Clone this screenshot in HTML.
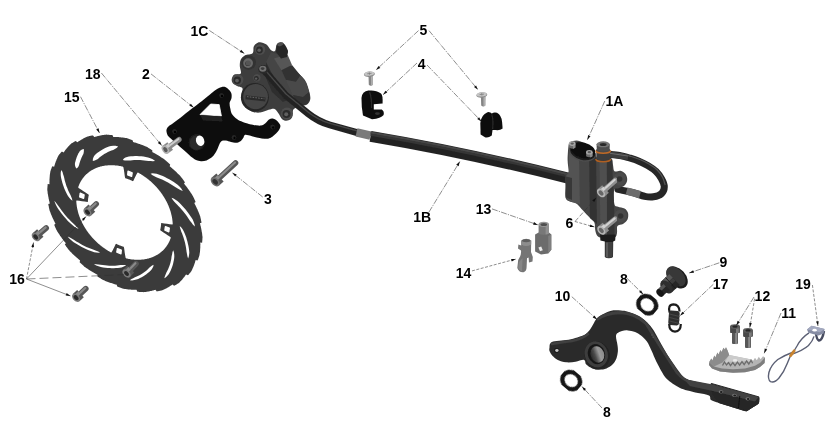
<!DOCTYPE html>
<html><head><meta charset="utf-8"><title>Rear Brake</title>
<style>
html,body{margin:0;padding:0;background:#fff;}
body{width:830px;height:421px;overflow:hidden;font-family:"Liberation Sans",sans-serif;}
svg{display:block}
.lb{font-family:"Liberation Sans",sans-serif;font-weight:bold;font-size:14px;fill:#000;}
</style></head><body>
<svg width="830" height="421" viewBox="0 0 830 421">
<defs>
<filter id="soft0" x="-20%" y="-20%" width="140%" height="140%"><feGaussianBlur stdDeviation="0.28"/></filter>
<filter id="soft" x="-5%" y="-5%" width="110%" height="110%"><feGaussianBlur stdDeviation="0.45"/></filter>
<filter id="soft2" x="-5%" y="-5%" width="110%" height="110%"><feGaussianBlur stdDeviation="0.8"/></filter>
<linearGradient id="bore" x1="0" y1="0" x2="1" y2="0"><stop offset="0" stop-color="#2a2a2a"/><stop offset="0.3" stop-color="#4a4a4a"/><stop offset="0.65" stop-color="#9a9a9a"/><stop offset="1" stop-color="#8a8a8a"/></linearGradient>
</defs>
<rect width="830" height="421" fill="#fff"/>
<g filter="url(#soft)"><path d="M134.4,142.4 L135.1,142.6 L135.8,142.8 L136.5,143.0 L137.1,143.2 L137.8,143.5 L138.5,143.7 L139.1,143.9 L139.8,144.1 L140.5,144.4 L141.2,144.6 L141.8,144.9 L142.5,145.1 L143.2,145.4 L143.9,145.6 L144.5,145.9 L145.2,146.2 L145.9,146.5 L146.6,146.8 L147.2,147.1 L147.9,147.5 L148.5,147.9 L149.1,148.3 L149.8,148.7 L150.4,149.1 L151.1,149.5 L151.7,149.9 L152.3,150.3 L152.3,152.1 L153.0,152.4 L153.6,152.8 L154.3,153.1 L154.9,153.5 L155.6,153.8 L156.2,154.2 L156.9,154.6 L157.5,155.0 L158.2,155.3 L158.8,155.7 L159.4,156.1 L160.1,156.5 L160.7,156.9 L161.3,157.4 L162.0,157.8 L162.6,158.2 L163.2,158.6 L163.9,159.1 L164.5,159.5 L165.1,159.9 L165.7,160.4 L166.3,161.0 L166.8,161.5 L167.4,162.0 L168.0,162.5 L168.5,163.0 L169.1,163.6 L169.6,164.1 L170.2,164.6 L169.7,166.3 L170.3,166.7 L170.9,167.2 L171.5,167.7 L172.0,168.2 L172.6,168.7 L173.2,169.2 L173.8,169.7 L174.3,170.2 L174.9,170.8 L175.5,171.3 L176.0,171.8 L176.6,172.3 L177.1,172.9 L177.7,173.4 L178.2,174.0 L178.8,174.5 L179.3,175.1 L179.9,175.6 L180.4,176.2 L180.9,176.7 L181.4,177.4 L181.9,178.0 L182.3,178.6 L182.8,179.2 L183.2,179.8 L183.7,180.4 L184.1,181.1 L184.5,181.7 L185.0,182.3 L184.0,183.6 L184.5,184.2 L185.0,184.8 L185.5,185.4 L185.9,186.0 L186.4,186.6 L186.9,187.2 L187.3,187.8 L187.8,188.4 L188.2,189.1 L188.7,189.7 L189.1,190.3 L189.6,190.9 L190.0,191.6 L190.4,192.2 L190.8,192.8 L191.3,193.5 L191.7,194.1 L192.1,194.8 L192.5,195.4 L192.9,196.1 L193.2,196.7 L193.6,197.4 L193.9,198.1 L194.2,198.7 L194.5,199.4 L194.8,200.1 L195.1,200.8 L195.4,201.5 L195.6,202.1 L194.3,203.1 L194.7,203.7 L195.0,204.4 L195.3,205.0 L195.7,205.7 L196.0,206.4 L196.3,207.0 L196.6,207.7 L196.9,208.4 L197.3,209.0 L197.6,209.7 L197.8,210.4 L198.1,211.1 L198.4,211.7 L198.7,212.4 L199.0,213.1 L199.2,213.8 L199.5,214.5 L199.8,215.2 L200.0,215.9 L200.3,216.5 L200.4,217.2 L200.6,217.9 L200.7,218.6 L200.9,219.3 L201.0,220.0 L201.1,220.7 L201.3,221.3 L201.4,222.0 L201.5,222.7 L199.9,223.2 L200.1,223.9 L200.3,224.5 L200.4,225.2 L200.6,225.9 L200.8,226.6 L200.9,227.3 L201.1,227.9 L201.2,228.6 L201.3,229.3 L201.5,230.0 L201.6,230.7 L201.7,231.4 L201.8,232.0 L202.0,232.7 L202.1,233.4 L202.2,234.1 L202.2,234.8 L202.3,235.5 L202.4,236.1 L202.5,236.8 L202.5,237.5 L202.5,238.1 L202.4,238.8 L202.4,239.4 L202.3,240.1 L202.3,240.7 L202.2,241.4 L202.2,242.0 L202.1,242.7 L200.3,242.6 L200.3,243.3 L200.4,243.9 L200.4,244.6 L200.3,245.2 L200.3,245.9 L200.3,246.5 L200.3,247.2 L200.3,247.8 L200.2,248.5 L200.2,249.1 L200.1,249.8 L200.1,250.4 L200.0,251.1 L200.0,251.7 L199.9,252.3 L199.8,253.0 L199.7,253.6 L199.6,254.2 L199.5,254.9 L199.4,255.5 L199.2,256.1 L199.0,256.7 L198.8,257.2 L198.6,257.8 L198.4,258.4 L198.2,258.9 L198.0,259.5 L197.7,260.0 L197.5,260.6 L195.6,260.1 L195.5,260.7 L195.3,261.3 L195.1,261.8 L195.0,262.4 L194.8,263.0 L194.6,263.6 L194.4,264.1 L194.2,264.7 L194.0,265.3 L193.8,265.8 L193.5,266.4 L193.3,267.0 L193.1,267.5 L192.8,268.1 L192.6,268.6 L192.3,269.2 L192.1,269.7 L191.8,270.2 L191.6,270.8 L191.3,271.3 L190.9,271.8 L190.6,272.2 L190.2,272.7 L189.8,273.1 L189.5,273.6 L189.1,274.0 L188.7,274.5 L188.3,274.9 L187.9,275.3 L186.1,274.4 L185.8,274.8 L185.5,275.3 L185.1,275.8 L184.8,276.3 L184.5,276.7 L184.1,277.2 L183.7,277.6 L183.4,278.1 L183.0,278.5 L182.6,279.0 L182.3,279.4 L181.9,279.9 L181.5,280.3 L181.1,280.7 L180.7,281.1 L180.3,281.6 L179.9,282.0 L179.5,282.4 L179.0,282.8 L178.6,283.2 L178.1,283.5 L177.6,283.8 L177.1,284.1 L176.6,284.4 L176.1,284.7 L175.6,285.0 L175.1,285.3 L174.6,285.6 L174.1,285.8 L172.4,284.5 L172.0,284.8 L171.5,285.2 L171.0,285.5 L170.6,285.8 L170.1,286.1 L169.6,286.4 L169.1,286.8 L168.6,287.1 L168.1,287.4 L167.6,287.6 L167.1,287.9 L166.6,288.2 L166.0,288.5 L165.5,288.8 L165.0,289.0 L164.5,289.3 L163.9,289.6 L163.4,289.8 L162.8,290.0 L162.3,290.3 L161.7,290.4 L161.1,290.6 L160.5,290.7 L159.9,290.8 L159.3,291.0 L158.7,291.1 L158.1,291.2 L157.4,291.3 L156.8,291.4 L155.5,289.8 L154.9,289.9 L154.4,290.1 L153.8,290.3 L153.2,290.4 L152.6,290.6 L152.0,290.7 L151.4,290.9 L150.8,291.0 L150.2,291.1 L149.6,291.3 L149.0,291.4 L148.4,291.5 L147.8,291.6 L147.2,291.7 L146.6,291.8 L145.9,291.9 L145.3,292.0 L144.7,292.0 L144.0,292.1 L143.4,292.2 L142.7,292.1 L142.1,292.1 L141.4,292.0 L140.8,292.0 L140.1,291.9 L139.4,291.9 L138.8,291.8 L138.1,291.7 L137.4,291.7 L136.5,289.8 L135.9,289.8 L135.2,289.8 L134.6,289.8 L133.9,289.8 L133.3,289.8 L132.6,289.7 L132.0,289.7 L131.3,289.7 L130.6,289.6 L130.0,289.6 L129.3,289.5 L128.6,289.4 L128.0,289.4 L127.3,289.3 L126.6,289.2 L126.0,289.1 L125.3,289.0 L124.6,288.9 L123.9,288.8 L123.3,288.7 L122.6,288.5 L121.9,288.2 L121.2,288.0 L120.6,287.8 L119.9,287.6 L119.2,287.3 L118.5,287.1 L117.9,286.8 L117.2,286.6 L116.7,284.7 L116.0,284.5 L115.4,284.4 L114.7,284.2 L114.0,284.0 L113.3,283.8 L112.7,283.6 L112.0,283.3 L111.3,283.1 L110.7,282.9 L110.0,282.7 L109.3,282.4 L108.6,282.2 L108.0,281.9 L107.3,281.7 L106.6,281.4 L105.9,281.2 L105.3,280.9 L104.6,280.6 L103.9,280.3 L103.2,280.0 L102.6,279.7 L101.9,279.3 L101.3,278.9 L100.7,278.5 L100.0,278.1 L99.4,277.7 L98.7,277.3 L98.1,276.9 L97.5,276.5 L97.5,274.7 L96.8,274.4 L96.2,274.0 L95.5,273.7 L94.9,273.3 L94.2,273.0 L93.6,272.6 L92.9,272.2 L92.3,271.8 L91.6,271.5 L91.0,271.1 L90.4,270.7 L89.7,270.3 L89.1,269.9 L88.5,269.4 L87.8,269.0 L87.2,268.6 L86.6,268.2 L85.9,267.7 L85.3,267.3 L84.7,266.9 L84.1,266.4 L83.5,265.8 L83.0,265.3 L82.4,264.8 L81.8,264.3 L81.3,263.8 L80.7,263.2 L80.2,262.7 L79.6,262.2 L80.1,260.5 L79.5,260.1 L78.9,259.6 L78.3,259.1 L77.8,258.6 L77.2,258.1 L76.6,257.6 L76.0,257.1 L75.5,256.6 L74.9,256.0 L74.3,255.5 L73.8,255.0 L73.2,254.5 L72.7,253.9 L72.1,253.4 L71.6,252.8 L71.0,252.3 L70.5,251.7 L69.9,251.2 L69.4,250.6 L68.9,250.1 L68.4,249.4 L67.9,248.8 L67.5,248.2 L67.0,247.6 L66.6,247.0 L66.1,246.4 L65.7,245.7 L65.3,245.1 L64.8,244.5 L65.8,243.2 L65.3,242.6 L64.8,242.0 L64.3,241.4 L63.9,240.8 L63.4,240.2 L62.9,239.6 L62.5,239.0 L62.0,238.4 L61.6,237.7 L61.1,237.1 L60.7,236.5 L60.2,235.9 L59.8,235.2 L59.4,234.6 L59.0,234.0 L58.5,233.3 L58.1,232.7 L57.7,232.0 L57.3,231.4 L56.9,230.7 L56.6,230.1 L56.2,229.4 L55.9,228.7 L55.6,228.1 L55.3,227.4 L55.0,226.7 L54.7,226.0 L54.4,225.3 L54.2,224.7 L55.5,223.7 L55.1,223.1 L54.8,222.4 L54.5,221.8 L54.1,221.1 L53.8,220.4 L53.5,219.8 L53.2,219.1 L52.9,218.4 L52.5,217.8 L52.2,217.1 L52.0,216.4 L51.7,215.7 L51.4,215.1 L51.1,214.4 L50.8,213.7 L50.6,213.0 L50.3,212.3 L50.0,211.6 L49.8,210.9 L49.5,210.3 L49.4,209.6 L49.2,208.9 L49.1,208.2 L48.9,207.5 L48.8,206.8 L48.7,206.1 L48.5,205.5 L48.4,204.8 L48.3,204.1 L49.9,203.6 L49.7,202.9 L49.5,202.3 L49.4,201.6 L49.2,200.9 L49.0,200.2 L48.9,199.5 L48.7,198.9 L48.6,198.2 L48.5,197.5 L48.3,196.8 L48.2,196.1 L48.1,195.4 L48.0,194.8 L47.8,194.1 L47.7,193.4 L47.6,192.7 L47.6,192.0 L47.5,191.3 L47.4,190.7 L47.3,190.0 L47.3,189.3 L47.3,188.7 L47.4,188.0 L47.4,187.4 L47.5,186.7 L47.5,186.1 L47.6,185.4 L47.6,184.8 L47.7,184.1 L49.5,184.2 L49.5,183.5 L49.4,182.9 L49.4,182.2 L49.5,181.6 L49.5,180.9 L49.5,180.3 L49.5,179.6 L49.5,179.0 L49.6,178.3 L49.6,177.7 L49.7,177.0 L49.7,176.4 L49.8,175.7 L49.8,175.1 L49.9,174.5 L50.0,173.8 L50.1,173.2 L50.2,172.6 L50.3,171.9 L50.4,171.3 L50.6,170.7 L50.8,170.1 L51.0,169.6 L51.2,169.0 L51.4,168.4 L51.6,167.9 L51.8,167.3 L52.1,166.8 L52.3,166.2 L54.2,166.7 L54.3,166.1 L54.5,165.5 L54.7,165.0 L54.8,164.4 L55.0,163.8 L55.2,163.2 L55.4,162.7 L55.6,162.1 L55.8,161.5 L56.0,161.0 L56.3,160.4 L56.5,159.8 L56.7,159.3 L57.0,158.7 L57.2,158.2 L57.5,157.6 L57.7,157.1 L58.0,156.6 L58.2,156.0 L58.5,155.5 L58.9,155.0 L59.2,154.6 L59.6,154.1 L60.0,153.7 L60.3,153.2 L60.7,152.8 L61.1,152.3 L61.5,151.9 L61.9,151.5 L63.7,152.4 L64.0,152.0 L64.3,151.5 L64.7,151.0 L65.0,150.5 L65.3,150.1 L65.7,149.6 L66.1,149.2 L66.4,148.7 L66.8,148.3 L67.2,147.8 L67.5,147.4 L67.9,146.9 L68.3,146.5 L68.7,146.1 L69.1,145.7 L69.5,145.2 L69.9,144.8 L70.3,144.4 L70.8,144.0 L71.2,143.6 L71.7,143.3 L72.2,143.0 L72.7,142.7 L73.2,142.4 L73.7,142.1 L74.2,141.8 L74.7,141.5 L75.2,141.2 L75.7,141.0 L77.4,142.3 L77.8,142.0 L78.3,141.6 L78.8,141.3 L79.2,141.0 L79.7,140.7 L80.2,140.4 L80.7,140.0 L81.2,139.7 L81.7,139.4 L82.2,139.2 L82.7,138.9 L83.2,138.6 L83.8,138.3 L84.3,138.0 L84.8,137.8 L85.3,137.5 L85.9,137.2 L86.4,137.0 L87.0,136.8 L87.5,136.5 L88.1,136.4 L88.7,136.2 L89.3,136.1 L89.9,136.0 L90.5,135.8 L91.1,135.7 L91.7,135.6 L92.4,135.5 L93.0,135.4 L94.3,137.0 L94.9,136.9 L95.4,136.7 L96.0,136.5 L96.6,136.4 L97.2,136.2 L97.8,136.1 L98.4,135.9 L99.0,135.8 L99.6,135.7 L100.2,135.5 L100.8,135.4 L101.4,135.3 L102.0,135.2 L102.6,135.1 L103.2,135.0 L103.9,134.9 L104.5,134.8 L105.1,134.8 L105.8,134.7 L106.4,134.6 L107.1,134.7 L107.7,134.7 L108.4,134.8 L109.0,134.8 L109.7,134.9 L110.4,134.9 L111.0,135.0 L111.7,135.1 L112.4,135.1 L113.3,137.0 L113.9,137.0 L114.6,137.0 L115.2,137.0 L115.9,137.0 L116.5,137.0 L117.2,137.1 L117.8,137.1 L118.5,137.1 L119.2,137.2 L119.8,137.2 L120.5,137.3 L121.2,137.4 L121.8,137.4 L122.5,137.5 L123.2,137.6 L123.8,137.7 L124.5,137.8 L125.2,137.9 L125.9,138.0 L126.5,138.1 L127.2,138.3 L127.9,138.6 L128.6,138.8 L129.2,139.0 L129.9,139.2 L130.6,139.5 L131.3,139.7 L131.9,140.0 L132.6,140.2 L133.1,142.1 L133.8,142.3ZM129.1,179.5 L129.4,179.6 L129.7,179.8 L130.0,179.9 L130.4,180.0 L130.7,180.2 L131.0,180.3 L131.3,180.4 L131.6,180.6 L131.9,180.7 L132.2,180.9 L132.6,181.0 L132.9,181.2 L133.3,180.9 L134.3,178.8 L135.3,176.8 L136.3,174.7 L137.4,172.7 L138.0,172.5 L138.4,172.7 L138.8,173.0 L139.2,173.2 L139.6,173.4 L140.0,173.7 L140.4,173.9 L140.8,174.1 L141.2,174.4 L141.6,174.6 L141.9,174.9 L142.3,175.1 L142.7,175.4 L143.1,175.6 L143.5,175.9 L143.9,176.2 L144.3,176.4 L144.7,176.7 L145.0,177.0 L145.4,177.2 L145.8,177.5 L146.2,177.8 L146.6,178.1 L146.9,178.4 L147.3,178.6 L147.7,178.9 L148.0,179.2 L148.4,179.5 L148.8,179.8 L149.1,180.1 L149.5,180.4 L149.8,180.7 L150.2,181.0 L150.6,181.3 L150.9,181.6 L151.3,182.0 L151.6,182.3 L152.0,182.6 L152.3,182.9 L152.6,183.2 L153.0,183.6 L153.3,183.9 L153.7,184.2 L154.0,184.6 L154.3,184.9 L154.7,185.2 L155.0,185.6 L155.3,185.9 L155.6,186.2 L156.0,186.6 L156.3,186.9 L156.6,187.3 L156.9,187.6 L157.2,188.0 L157.5,188.3 L157.8,188.7 L158.1,189.1 L158.4,189.4 L158.7,189.8 L159.0,190.1 L159.3,190.5 L159.6,190.9 L159.9,191.2 L160.2,191.6 L160.5,192.0 L160.7,192.3 L161.0,192.7 L161.3,193.1 L161.6,193.5 L161.8,193.9 L162.1,194.2 L162.4,194.6 L162.6,195.0 L162.9,195.4 L163.1,195.8 L163.4,196.2 L163.6,196.5 L163.9,196.9 L164.1,197.3 L164.3,197.7 L164.6,198.1 L164.8,198.5 L165.0,198.9 L165.3,199.3 L165.5,199.7 L165.7,200.1 L165.9,200.5 L166.1,200.9 L166.4,201.3 L166.6,201.7 L166.8,202.1 L167.0,202.5 L167.2,202.9 L167.4,203.3 L167.6,203.7 L167.7,204.1 L167.9,204.5 L168.1,204.9 L168.3,205.3 L168.5,205.7 L168.6,206.2 L168.8,206.6 L169.0,207.0 L169.1,207.4 L169.3,207.8 L169.4,208.2 L169.6,208.6 L169.7,209.0 L169.9,209.4 L170.0,209.8 L170.2,210.3 L170.3,210.7 L170.4,211.1 L170.6,211.5 L170.7,211.9 L170.8,212.3 L170.9,212.7 L171.0,213.1 L171.1,213.6 L171.2,214.0 L171.3,214.4 L171.4,214.8 L171.5,215.2 L171.6,215.6 L171.7,216.0 L171.8,216.4 L171.9,216.9 L172.0,217.3 L172.0,217.7 L172.1,218.1 L172.2,218.5 L172.2,218.9 L172.3,219.3 L172.3,219.7 L172.4,220.1 L172.4,220.5 L172.5,220.9 L172.5,221.4 L172.6,221.8 L172.6,222.2 L172.6,222.6 L172.7,223.0 L172.7,223.4 L172.7,223.8 L172.7,224.2 L172.2,224.4 L169.6,224.2 L166.9,223.8 L164.3,223.4 L161.6,223.0 L161.1,223.2 L161.1,223.5 L161.1,223.8 L161.1,224.1 L161.1,224.4 L161.0,224.7 L161.0,224.9 L161.0,225.2 L161.0,225.5 L160.9,225.8 L160.9,226.1 L160.9,226.4 L160.8,226.7 L160.8,227.0 L160.7,227.3 L160.7,227.6 L160.6,227.8 L160.6,228.1 L160.5,228.4 L160.5,228.7 L160.4,229.0 L160.4,229.2 L160.3,229.5 L160.2,229.8 L160.1,230.1 L160.6,230.6 L163.1,232.2 L165.5,233.8 L168.0,235.5 L170.4,237.1 L170.8,237.8 L170.7,238.1 L170.6,238.5 L170.4,238.8 L170.3,239.1 L170.2,239.5 L170.0,239.8 L169.9,240.2 L169.8,240.5 L169.6,240.8 L169.5,241.2 L169.3,241.5 L169.2,241.8 L169.0,242.1 L168.8,242.5 L168.7,242.8 L168.5,243.1 L168.3,243.4 L168.1,243.7 L168.0,244.0 L167.8,244.3 L167.6,244.6 L167.4,244.9 L167.2,245.2 L167.0,245.5 L166.8,245.8 L166.6,246.1 L166.4,246.4 L166.2,246.7 L166.0,247.0 L165.8,247.3 L165.5,247.5 L165.3,247.8 L165.1,248.1 L164.9,248.4 L164.6,248.6 L164.4,248.9 L164.1,249.2 L163.9,249.4 L163.7,249.7 L163.4,249.9 L163.2,250.2 L162.9,250.4 L162.7,250.7 L162.4,250.9 L162.1,251.1 L161.9,251.4 L161.6,251.6 L161.3,251.8 L161.1,252.1 L160.8,252.3 L160.5,252.5 L160.2,252.7 L159.9,253.0 L159.7,253.2 L159.4,253.4 L159.1,253.6 L158.8,253.8 L158.5,254.0 L158.2,254.2 L157.9,254.4 L157.6,254.6 L157.3,254.8 L157.0,254.9 L156.6,255.1 L156.3,255.3 L156.0,255.5 L155.7,255.6 L155.4,255.8 L155.0,256.0 L154.7,256.1 L154.4,256.3 L154.1,256.4 L153.7,256.6 L153.4,256.7 L153.0,256.9 L152.7,257.0 L152.4,257.2 L152.0,257.3 L151.7,257.4 L151.3,257.6 L151.0,257.7 L150.6,257.8 L150.3,257.9 L149.9,258.0 L149.6,258.1 L149.2,258.3 L148.8,258.4 L148.5,258.5 L148.1,258.6 L147.7,258.6 L147.4,258.7 L147.0,258.8 L146.6,258.9 L146.2,259.0 L145.9,259.1 L145.5,259.1 L145.1,259.2 L144.7,259.3 L144.3,259.3 L144.0,259.4 L143.6,259.4 L143.2,259.5 L142.8,259.5 L142.4,259.6 L142.0,259.6 L141.6,259.6 L141.2,259.7 L140.8,259.7 L140.4,259.7 L140.0,259.8 L139.6,259.8 L139.2,259.8 L138.8,259.8 L138.4,259.8 L138.0,259.8 L137.6,259.8 L137.2,259.8 L136.8,259.8 L136.4,259.8 L136.0,259.8 L135.6,259.7 L135.2,259.7 L134.8,259.7 L134.4,259.7 L133.9,259.6 L133.5,259.6 L133.1,259.6 L132.7,259.5 L132.3,259.5 L131.9,259.4 L131.5,259.4 L131.0,259.3 L130.6,259.2 L130.2,259.2 L129.8,259.1 L129.4,259.0 L129.0,259.0 L128.5,258.9 L128.1,258.8 L127.7,258.7 L127.3,258.6 L126.9,258.5 L126.4,258.4 L126.0,258.3 L125.6,257.7 L125.1,255.1 L124.7,252.5 L124.4,249.9 L124.0,247.4 L123.7,246.8 L123.4,246.7 L123.1,246.6 L122.8,246.5 L122.5,246.4 L122.1,246.3 L121.8,246.2 L121.5,246.1 L121.2,246.0 L120.9,245.8 L120.5,245.7 L120.2,245.6 L119.9,245.5 L119.6,245.4 L119.3,245.2 L119.0,245.1 L118.6,245.0 L118.3,244.8 L118.0,244.7 L117.7,244.6 L117.4,244.4 L117.1,244.3 L116.8,244.1 L116.4,244.0 L116.1,243.8 L115.7,244.1 L114.7,246.2 L113.7,248.2 L112.7,250.3 L111.6,252.3 L111.0,252.5 L110.6,252.3 L110.2,252.0 L109.8,251.8 L109.4,251.6 L109.0,251.3 L108.6,251.1 L108.2,250.9 L107.8,250.6 L107.4,250.4 L107.1,250.1 L106.7,249.9 L106.3,249.6 L105.9,249.4 L105.5,249.1 L105.1,248.8 L104.7,248.6 L104.3,248.3 L104.0,248.0 L103.6,247.8 L103.2,247.5 L102.8,247.2 L102.4,246.9 L102.1,246.6 L101.7,246.4 L101.3,246.1 L101.0,245.8 L100.6,245.5 L100.2,245.2 L99.9,244.9 L99.5,244.6 L99.2,244.3 L98.8,244.0 L98.4,243.7 L98.1,243.4 L97.7,243.0 L97.4,242.7 L97.0,242.4 L96.7,242.1 L96.4,241.8 L96.0,241.4 L95.7,241.1 L95.3,240.8 L95.0,240.4 L94.7,240.1 L94.3,239.8 L94.0,239.4 L93.7,239.1 L93.4,238.8 L93.0,238.4 L92.7,238.1 L92.4,237.7 L92.1,237.4 L91.8,237.0 L91.5,236.7 L91.2,236.3 L90.9,235.9 L90.6,235.6 L90.3,235.2 L90.0,234.9 L89.7,234.5 L89.4,234.1 L89.1,233.8 L88.8,233.4 L88.5,233.0 L88.3,232.7 L88.0,232.3 L87.7,231.9 L87.4,231.5 L87.2,231.1 L86.9,230.8 L86.6,230.4 L86.4,230.0 L86.1,229.6 L85.9,229.2 L85.6,228.8 L85.4,228.5 L85.1,228.1 L84.9,227.7 L84.7,227.3 L84.4,226.9 L84.2,226.5 L84.0,226.1 L83.7,225.7 L83.5,225.3 L83.3,224.9 L83.1,224.5 L82.9,224.1 L82.6,223.7 L82.4,223.3 L82.2,222.9 L82.0,222.5 L81.8,222.1 L81.6,221.7 L81.4,221.3 L81.3,220.9 L81.1,220.5 L80.9,220.1 L80.7,219.7 L80.5,219.3 L80.4,218.8 L80.2,218.4 L80.0,218.0 L79.9,217.6 L79.7,217.2 L79.6,216.8 L79.4,216.4 L79.3,216.0 L79.1,215.6 L79.0,215.2 L78.8,214.7 L78.7,214.3 L78.6,213.9 L78.4,213.5 L78.3,213.1 L78.2,212.7 L78.1,212.3 L78.0,211.9 L77.9,211.4 L77.8,211.0 L77.7,210.6 L77.6,210.2 L77.5,209.8 L77.4,209.4 L77.3,209.0 L77.2,208.6 L77.1,208.1 L77.0,207.7 L77.0,207.3 L76.9,206.9 L76.8,206.5 L76.8,206.1 L76.7,205.7 L76.7,205.3 L76.6,204.9 L76.6,204.5 L76.5,204.1 L76.5,203.6 L76.4,203.2 L76.4,202.8 L76.4,202.4 L76.3,202.0 L76.3,201.6 L76.3,201.2 L76.3,200.8 L76.8,200.6 L79.4,200.8 L82.1,201.2 L84.7,201.6 L87.4,202.0 L87.9,201.8 L87.9,201.5 L87.9,201.2 L87.9,200.9 L87.9,200.6 L88.0,200.3 L88.0,200.1 L88.0,199.8 L88.0,199.5 L88.1,199.2 L88.1,198.9 L88.1,198.6 L88.2,198.3 L88.2,198.0 L88.3,197.7 L88.3,197.4 L88.4,197.2 L88.4,196.9 L88.5,196.6 L88.5,196.3 L88.6,196.0 L88.6,195.8 L88.7,195.5 L88.8,195.2 L88.9,194.9 L88.4,194.4 L85.9,192.8 L83.5,191.2 L81.0,189.5 L78.6,187.9 L78.2,187.2 L78.3,186.9 L78.4,186.5 L78.6,186.2 L78.7,185.9 L78.8,185.5 L79.0,185.2 L79.1,184.8 L79.2,184.5 L79.4,184.2 L79.5,183.8 L79.7,183.5 L79.8,183.2 L80.0,182.9 L80.2,182.5 L80.3,182.2 L80.5,181.9 L80.7,181.6 L80.9,181.3 L81.0,181.0 L81.2,180.7 L81.4,180.4 L81.6,180.1 L81.8,179.8 L82.0,179.5 L82.2,179.2 L82.4,178.9 L82.6,178.6 L82.8,178.3 L83.0,178.0 L83.2,177.7 L83.5,177.5 L83.7,177.2 L83.9,176.9 L84.1,176.6 L84.4,176.4 L84.6,176.1 L84.9,175.8 L85.1,175.6 L85.3,175.3 L85.6,175.1 L85.8,174.8 L86.1,174.6 L86.3,174.3 L86.6,174.1 L86.9,173.9 L87.1,173.6 L87.4,173.4 L87.7,173.2 L87.9,172.9 L88.2,172.7 L88.5,172.5 L88.8,172.3 L89.1,172.0 L89.3,171.8 L89.6,171.6 L89.9,171.4 L90.2,171.2 L90.5,171.0 L90.8,170.8 L91.1,170.6 L91.4,170.4 L91.7,170.2 L92.0,170.1 L92.4,169.9 L92.7,169.7 L93.0,169.5 L93.3,169.4 L93.6,169.2 L94.0,169.0 L94.3,168.9 L94.6,168.7 L94.9,168.6 L95.3,168.4 L95.6,168.3 L96.0,168.1 L96.3,168.0 L96.6,167.8 L97.0,167.7 L97.3,167.6 L97.7,167.4 L98.0,167.3 L98.4,167.2 L98.7,167.1 L99.1,167.0 L99.4,166.9 L99.8,166.7 L100.2,166.6 L100.5,166.5 L100.9,166.4 L101.3,166.4 L101.6,166.3 L102.0,166.2 L102.4,166.1 L102.8,166.0 L103.1,165.9 L103.5,165.9 L103.9,165.8 L104.3,165.7 L104.7,165.7 L105.0,165.6 L105.4,165.6 L105.8,165.5 L106.2,165.5 L106.6,165.4 L107.0,165.4 L107.4,165.4 L107.8,165.3 L108.2,165.3 L108.6,165.3 L109.0,165.2 L109.4,165.2 L109.8,165.2 L110.2,165.2 L110.6,165.2 L111.0,165.2 L111.4,165.2 L111.8,165.2 L112.2,165.2 L112.6,165.2 L113.0,165.2 L113.4,165.3 L113.8,165.3 L114.2,165.3 L114.6,165.3 L115.1,165.4 L115.5,165.4 L115.9,165.4 L116.3,165.5 L116.7,165.5 L117.1,165.6 L117.5,165.6 L118.0,165.7 L118.4,165.8 L118.8,165.8 L119.2,165.9 L119.6,166.0 L120.0,166.0 L120.5,166.1 L120.9,166.2 L121.3,166.3 L121.7,166.4 L122.1,166.5 L122.6,166.6 L123.0,166.7 L123.4,167.3 L123.9,169.9 L124.3,172.5 L124.6,175.1 L125.0,177.6 L125.3,178.2 L125.6,178.3 L125.9,178.4 L126.2,178.5 L126.5,178.6 L126.9,178.7 L127.2,178.8 L127.5,178.9 L127.8,179.0 L128.1,179.2 L128.5,179.3 L128.8,179.4ZM72.4,200.7 L72.0,198.8 L71.3,197.0 L70.6,195.2 L69.7,193.5 L68.8,191.7 L68.0,189.9 L67.3,188.0 L66.5,186.2 L65.9,184.2 L65.3,182.3 L64.7,180.3 L64.3,178.3 L63.8,176.3 L63.1,174.3 L62.5,172.1 L61.4,169.9 L61.4,169.9 L60.8,171.9 L60.7,173.9 L60.8,176.0 L61.2,178.2 L61.7,180.3 L62.2,182.3 L62.9,184.4 L63.6,186.4 L64.3,188.4 L65.2,190.4 L66.0,192.3 L67.0,194.2 L68.0,196.0 L69.3,197.7 L70.6,199.3 L72.4,200.7ZM76.3,168.5 L77.5,167.7 L78.3,166.7 L78.9,165.6 L79.2,164.4 L79.5,163.2 L79.9,162.0 L80.3,160.8 L80.7,159.7 L81.2,158.5 L81.7,157.3 L82.2,156.2 L82.8,155.0 L83.4,153.9 L83.7,152.5 L83.9,151.0 L83.8,149.1 L83.8,149.1 L82.0,149.5 L80.8,150.3 L79.7,151.2 L79.0,152.4 L78.3,153.6 L77.8,154.8 L77.2,156.1 L76.7,157.3 L76.3,158.6 L75.8,159.9 L75.5,161.2 L75.1,162.5 L74.9,163.8 L75.0,165.3 L75.4,166.8 L76.3,168.5ZM92.8,161.0 L94.8,160.5 L96.4,159.7 L97.9,158.9 L99.1,157.8 L100.4,156.7 L101.8,155.7 L103.2,154.7 L104.7,153.7 L106.3,152.9 L107.9,152.0 L109.6,151.3 L111.4,150.6 L113.2,149.9 L114.9,148.9 L116.6,147.9 L118.2,146.4 L118.2,146.4 L115.5,145.7 L113.2,145.7 L110.9,145.9 L108.9,146.5 L107.0,147.2 L105.2,148.1 L103.4,148.9 L101.7,149.9 L100.1,150.9 L98.6,151.9 L97.1,153.1 L95.7,154.2 L94.5,155.5 L93.6,157.1 L92.9,158.8 L92.8,161.0ZM122.8,160.0 L124.9,160.5 L126.8,160.6 L128.7,160.6 L130.5,160.4 L132.3,160.2 L134.2,160.0 L136.1,160.0 L138.0,160.0 L140.0,160.0 L142.1,160.2 L144.1,160.4 L146.3,160.7 L148.4,161.0 L150.6,161.1 L152.8,161.2 L155.1,160.9 L155.1,160.9 L152.8,159.3 L150.4,158.2 L148.1,157.4 L145.8,156.9 L143.5,156.6 L141.3,156.3 L139.1,156.2 L137.0,156.1 L134.9,156.1 L132.9,156.2 L130.9,156.3 L128.9,156.5 L127.1,156.9 L125.4,157.6 L123.9,158.5 L122.8,160.0ZM150.6,173.7 L152.5,175.2 L154.4,176.2 L156.3,177.2 L158.2,177.9 L160.1,178.7 L162.1,179.5 L164.1,180.5 L166.0,181.5 L168.0,182.5 L170.0,183.7 L172.0,184.9 L174.0,186.2 L176.0,187.5 L178.1,188.7 L180.3,189.9 L182.8,190.9 L182.8,190.9 L181.3,188.5 L179.5,186.6 L177.6,184.7 L175.5,183.2 L173.4,181.8 L171.3,180.5 L169.2,179.3 L167.1,178.2 L164.9,177.1 L162.8,176.1 L160.7,175.2 L158.7,174.4 L156.6,173.7 L154.5,173.4 L152.5,173.2 L150.6,173.7ZM171.5,197.8 L172.7,199.8 L174.1,201.4 L175.5,203.1 L177.0,204.6 L178.6,206.2 L180.1,207.8 L181.6,209.5 L183.1,211.2 L184.5,213.0 L185.9,214.8 L187.3,216.7 L188.6,218.7 L189.9,220.7 L191.4,222.6 L193.0,224.7 L194.9,226.6 L194.9,226.6 L194.5,224.2 L193.7,221.9 L192.7,219.6 L191.4,217.5 L190.0,215.4 L188.6,213.4 L187.1,211.4 L185.6,209.5 L184.0,207.7 L182.4,205.9 L180.8,204.2 L179.1,202.5 L177.4,201.0 L175.5,199.7 L173.6,198.6 L171.5,197.8ZM179.7,225.9 L180.1,227.9 L180.7,229.8 L181.3,231.7 L182.1,233.6 L182.8,235.5 L183.5,237.5 L184.1,239.5 L184.7,241.5 L185.2,243.5 L185.6,245.6 L186.0,247.6 L186.3,249.7 L186.6,251.9 L187.0,254.0 L187.4,256.3 L188.1,258.6 L188.1,258.6 L188.8,256.6 L189.1,254.5 L189.3,252.4 L189.1,250.2 L188.8,248.0 L188.4,245.8 L187.9,243.7 L187.4,241.5 L186.8,239.4 L186.2,237.3 L185.4,235.3 L184.6,233.2 L183.7,231.2 L182.6,229.3 L181.3,227.5 L179.7,225.9ZM173.2,250.3 L172.5,252.0 L172.2,253.7 L171.8,255.4 L171.5,257.1 L171.3,258.9 L170.9,260.7 L170.5,262.4 L170.0,264.2 L169.4,265.9 L168.8,267.6 L168.1,269.3 L167.2,271.0 L166.4,272.6 L165.6,274.4 L164.9,276.2 L164.3,278.3 L164.3,278.3 L166.0,277.2 L167.4,275.8 L168.7,274.3 L169.7,272.6 L170.5,270.9 L171.3,269.1 L172.0,267.3 L172.6,265.5 L173.1,263.7 L173.5,261.8 L173.9,260.0 L174.2,258.1 L174.3,256.2 L174.2,254.3 L173.9,252.3 L173.2,250.3ZM153.6,264.7 L152.1,265.5 L150.8,266.5 L149.5,267.6 L148.3,268.7 L147.1,269.9 L145.9,271.0 L144.5,272.0 L143.1,273.0 L141.6,274.0 L140.0,274.9 L138.4,275.7 L136.7,276.5 L134.9,277.3 L133.2,278.2 L131.5,279.1 L129.8,280.3 L129.8,280.3 L132.1,280.4 L134.3,280.1 L136.4,279.6 L138.2,278.9 L140.0,278.1 L141.7,277.2 L143.4,276.3 L144.9,275.3 L146.4,274.2 L147.8,273.1 L149.2,272.0 L150.5,270.8 L151.6,269.5 L152.5,268.0 L153.3,266.5 L153.6,264.7ZM126.2,265.0 L124.3,264.9 L122.4,265.0 L120.6,265.1 L118.8,265.3 L117.0,265.6 L115.1,265.7 L113.1,265.8 L111.2,265.8 L109.1,265.7 L107.1,265.5 L105.0,265.3 L102.8,265.0 L100.6,264.7 L98.4,264.4 L96.2,264.2 L93.9,264.1 L93.9,264.1 L96.2,265.4 L98.5,266.2 L100.8,266.9 L103.1,267.4 L105.3,267.7 L107.5,267.9 L109.7,268.1 L111.8,268.2 L113.9,268.2 L115.9,268.1 L117.8,268.0 L119.8,267.7 L121.6,267.4 L123.3,266.8 L124.9,266.1 L126.2,265.0ZM100.1,252.6 L98.2,251.5 L96.2,250.8 L94.3,250.0 L92.4,249.3 L90.4,248.6 L88.4,247.8 L86.4,246.9 L84.4,245.9 L82.4,244.9 L80.3,243.8 L78.3,242.6 L76.3,241.4 L74.2,240.1 L72.1,238.8 L69.9,237.6 L67.6,236.4 L67.6,236.4 L69.3,238.5 L71.3,240.2 L73.3,241.9 L75.4,243.3 L77.5,244.6 L79.6,245.8 L81.7,247.0 L83.8,248.0 L85.9,249.0 L88.0,249.9 L90.1,250.8 L92.2,251.5 L94.2,252.2 L96.2,252.5 L98.2,252.8 L100.1,252.6ZM78.6,229.0 L77.2,227.3 L75.6,225.7 L74.1,224.2 L72.5,222.7 L70.9,221.2 L69.3,219.6 L67.7,217.9 L66.2,216.2 L64.7,214.4 L63.2,212.6 L61.8,210.7 L60.4,208.8 L59.0,206.8 L57.5,204.8 L56.0,202.8 L54.3,200.7 L54.3,200.7 L55.1,203.1 L56.1,205.3 L57.3,207.5 L58.6,209.6 L60.1,211.6 L61.5,213.6 L63.1,215.5 L64.6,217.3 L66.2,219.1 L67.8,220.9 L69.5,222.5 L71.2,224.1 L72.9,225.6 L74.7,226.9 L76.6,228.1 L78.6,229.0Z" fill="#3b3b3b" fill-rule="evenodd"/>
<path d="M127.7,174.9 L131.6,176.4 L132.2,172.9 L128.0,171.2Z" fill="#fff" stroke="#fff" stroke-width="1.3" stroke-linejoin="round"/>
<path d="M165.4,226.6 L164.9,230.1 L168.8,231.8 L169.3,228.0Z" fill="#fff" stroke="#fff" stroke-width="1.3" stroke-linejoin="round"/>
<path d="M121.3,250.1 L117.4,248.6 L116.8,252.1 L121.0,253.8Z" fill="#fff" stroke="#fff" stroke-width="1.3" stroke-linejoin="round"/>
<path d="M83.6,198.4 L84.1,194.9 L80.2,193.2 L79.7,197.0Z" fill="#fff" stroke="#fff" stroke-width="1.3" stroke-linejoin="round"/>
</g>
<g filter="url(#soft)">
<line x1="87.5" y1="212.2" x2="96.2" y2="204.0" stroke="#575757" stroke-width="5.6" stroke-linecap="round"/>
<line x1="87.0" y1="211.6" x2="95.7" y2="203.4" stroke="#8a8a8a" stroke-width="2.1" stroke-linecap="round"/>
<line x1="87.5" y1="212.2" x2="91.9" y2="208.1" stroke="#575757" stroke-width="9.8"/>
<line x1="86.5" y1="211.2" x2="90.9" y2="207.1" stroke="#8a8a8a" stroke-width="3.4"/>
<ellipse cx="87.5" cy="212.2" rx="3.2" ry="4.9" transform="rotate(-43.3 87.5 212.2)" fill="#7a7a7a"/>
<ellipse cx="87.5" cy="212.2" rx="1.9" ry="2.9" transform="rotate(-43.3 87.5 212.2)" fill="#2a2a2a"/>
<line x1="35.7" y1="237.0" x2="46.2" y2="228.0" stroke="#575757" stroke-width="5.6" stroke-linecap="round"/>
<line x1="35.2" y1="236.4" x2="45.7" y2="227.4" stroke="#8a8a8a" stroke-width="2.1" stroke-linecap="round"/>
<line x1="35.7" y1="237.0" x2="40.3" y2="233.1" stroke="#575757" stroke-width="9.8"/>
<line x1="34.8" y1="235.9" x2="39.3" y2="232.0" stroke="#8a8a8a" stroke-width="3.4"/>
<ellipse cx="35.7" cy="237.0" rx="3.2" ry="4.9" transform="rotate(-40.6 35.7 237.0)" fill="#7a7a7a"/>
<ellipse cx="35.7" cy="237.0" rx="1.9" ry="2.9" transform="rotate(-40.6 35.7 237.0)" fill="#2a2a2a"/>
<line x1="126.5" y1="273.5" x2="136.0" y2="263.8" stroke="#575757" stroke-width="5.6" stroke-linecap="round"/>
<line x1="125.9" y1="272.9" x2="135.4" y2="263.2" stroke="#8a8a8a" stroke-width="2.1" stroke-linecap="round"/>
<line x1="126.5" y1="273.5" x2="130.7" y2="269.2" stroke="#575757" stroke-width="9.8"/>
<line x1="125.5" y1="272.5" x2="129.7" y2="268.2" stroke="#8a8a8a" stroke-width="3.4"/>
<ellipse cx="126.5" cy="273.5" rx="3.2" ry="4.9" transform="rotate(-45.6 126.5 273.5)" fill="#7a7a7a"/>
<ellipse cx="126.5" cy="273.5" rx="1.9" ry="2.9" transform="rotate(-45.6 126.5 273.5)" fill="#2a2a2a"/>
<line x1="76.1" y1="297.7" x2="85.8" y2="288.6" stroke="#575757" stroke-width="5.6" stroke-linecap="round"/>
<line x1="75.6" y1="297.1" x2="85.3" y2="288.0" stroke="#8a8a8a" stroke-width="2.1" stroke-linecap="round"/>
<line x1="76.1" y1="297.7" x2="80.5" y2="293.6" stroke="#575757" stroke-width="9.8"/>
<line x1="75.1" y1="296.7" x2="79.5" y2="292.6" stroke="#8a8a8a" stroke-width="3.4"/>
<ellipse cx="76.1" cy="297.7" rx="3.2" ry="4.9" transform="rotate(-43.2 76.1 297.7)" fill="#7a7a7a"/>
<ellipse cx="76.1" cy="297.7" rx="1.9" ry="2.9" transform="rotate(-43.2 76.1 297.7)" fill="#2a2a2a"/>
</g>
<g filter="url(#soft)">
<path d="M222.5,86.8 C224.3,86.5 225.6,87.0 227.0,88.0 C228.4,89.0 230.2,90.8 231.0,92.5 C231.8,94.2 231.7,96.2 231.5,98.0 C231.3,99.8 229.8,101.2 229.6,103.0 C229.4,104.8 229.9,106.6 230.3,108.5 C230.7,110.4 231.0,112.5 232.1,114.3 C233.2,116.0 235.1,117.7 236.9,119.0 C238.7,120.3 240.4,121.1 242.8,122.0 C245.2,122.9 248.1,123.8 251.1,124.4 C254.1,125.0 258.3,125.8 260.7,125.6 C263.1,125.4 264.0,124.2 265.4,123.2 C266.8,122.2 267.8,120.4 269.0,119.6 C270.2,118.8 271.3,118.5 272.5,118.6 C273.7,118.7 275.0,119.2 276.1,120.0 C277.2,120.8 278.4,122.2 279.1,123.2 C279.8,124.2 280.4,124.9 280.4,126.0 C280.4,127.1 280.0,128.3 279.1,129.7 C278.2,131.1 276.4,133.1 274.9,134.5 C273.4,135.9 272.0,137.3 270.2,138.0 C268.4,138.7 266.8,139.0 264.2,138.8 C261.6,138.6 257.3,137.6 254.7,137.0 C252.1,136.4 250.2,135.5 248.5,135.2 C246.8,134.9 245.7,134.5 244.8,135.0 C243.9,135.5 243.9,137.0 243.2,138.0 C242.5,139.0 241.9,140.2 240.8,141.0 C239.8,141.8 238.5,142.6 236.9,142.8 C235.3,143.0 232.8,142.4 231.0,142.0 C229.2,141.6 227.5,140.8 226.0,140.6 C224.5,140.4 222.9,140.4 221.8,141.0 C220.7,141.6 220.2,142.7 219.5,144.0 C218.8,145.3 218.3,147.1 217.6,148.7 C216.8,150.3 216.0,152.1 215.0,153.6 C214.0,155.1 212.9,156.5 211.5,157.6 C210.1,158.7 208.2,159.8 206.5,160.4 C204.8,161.0 202.8,161.3 201.0,161.2 C199.2,161.1 197.5,160.6 196.0,160.0 C194.5,159.4 193.9,158.9 192.2,157.6 C190.5,156.3 188.1,153.9 186.0,152.0 C183.9,150.1 181.7,148.2 179.6,146.4 C177.5,144.6 175.3,142.6 173.5,141.0 C171.7,139.4 169.7,137.9 168.6,136.6 C167.5,135.3 167.1,134.2 166.8,133.0 C166.5,131.8 166.3,130.7 166.6,129.6 C166.9,128.5 167.3,127.8 168.5,126.6 C169.7,125.4 171.8,124.3 174.0,122.6 C176.2,120.9 179.0,118.7 182.0,116.4 C185.0,114.1 188.7,111.2 192.0,108.6 C195.3,106.0 199.0,103.3 202.0,101.0 C205.0,98.7 207.6,96.5 210.0,94.6 C212.4,92.7 214.3,90.9 216.4,89.6 C218.5,88.3 220.7,87.1 222.5,86.8Z" fill="#0b0b0b"/>
<path d="M210.6,104 L219.2,104.6 L221.4,116 L200,114.6 Z" fill="#fff" stroke="#fff" stroke-width="0.8" stroke-linejoin="round"/>
<path d="M200,115 L221.4,116.4 L222.6,121.4 L203,120.4Z" fill="#222"/>
<ellipse cx="196.8" cy="142.4" rx="8.3" ry="8.4" fill="#1e1e1e"/>
<ellipse cx="196.4" cy="142.8" rx="6.6" ry="7.2" fill="#2a2a2a"/>
<ellipse cx="200.1" cy="140.8" rx="4.1" ry="5.3" fill="#fff" transform="rotate(-18 200.1 140.8)"/>
<ellipse cx="221.5" cy="95.5" rx="2.4" ry="2.4" fill="#262626"/><ellipse cx="222.0" cy="96.0" rx="1.2" ry="1.2" fill="#050505"/>
<ellipse cx="272.6" cy="127" rx="2.4" ry="2.4" fill="#262626"/><ellipse cx="273.1" cy="127.5" rx="1.2" ry="1.2" fill="#050505"/>
<ellipse cx="174.5" cy="131.5" rx="2.4" ry="2.4" fill="#262626"/><ellipse cx="175.0" cy="132.0" rx="1.2" ry="1.2" fill="#050505"/>
<ellipse cx="234" cy="137.5" rx="2.4" ry="2.4" fill="#262626"/><ellipse cx="234.5" cy="138.0" rx="1.2" ry="1.2" fill="#050505"/>
</g>
<g filter="url(#soft)">
<line x1="165.4" y1="149.6" x2="179.0" y2="139.6" stroke="#8a8a8a" stroke-width="5.2" stroke-linecap="round"/>
<line x1="164.9" y1="149.0" x2="178.5" y2="139.0" stroke="#cdcdcd" stroke-width="2.0" stroke-linecap="round"/>
<line x1="165.4" y1="149.6" x2="170.2" y2="146.0" stroke="#8a8a8a" stroke-width="9.4"/>
<line x1="164.6" y1="148.5" x2="169.4" y2="144.9" stroke="#cdcdcd" stroke-width="3.3"/>
<ellipse cx="165.4" cy="149.6" rx="3.1" ry="4.7" transform="rotate(-36.3 165.4 149.6)" fill="#b0b0b0"/>
<ellipse cx="165.4" cy="149.6" rx="1.8" ry="2.8" transform="rotate(-36.3 165.4 149.6)" fill="#5a5a5a"/>
<line x1="215.2" y1="181.8" x2="235.5" y2="163.0" stroke="#555" stroke-width="5.6" stroke-linecap="round"/>
<line x1="214.7" y1="181.2" x2="235.0" y2="162.4" stroke="#8c8c8c" stroke-width="2.1" stroke-linecap="round"/>
<line x1="215.2" y1="181.8" x2="220.0" y2="177.4" stroke="#555" stroke-width="10.8"/>
<line x1="214.2" y1="180.8" x2="219.0" y2="176.4" stroke="#8c8c8c" stroke-width="3.8"/>
<ellipse cx="215.2" cy="181.8" rx="3.6" ry="5.4" transform="rotate(-42.8 215.2 181.8)" fill="#6e6e6e"/>
<ellipse cx="215.2" cy="181.8" rx="2.1" ry="3.2" transform="rotate(-42.8 215.2 181.8)" fill="#333"/>
</g>
<g filter="url(#soft)">
<path d="M253.7,46.8 C254.3,45.2 255.4,44.2 256.5,43.5 C257.6,42.8 258.3,42.1 260.0,42.3 C261.7,42.5 264.7,43.3 266.5,44.6 C268.3,45.9 269.4,48.9 270.8,50.0 C272.2,51.1 274.0,51.9 275.0,51.0 C276.0,50.1 275.8,46.1 276.7,44.6 C277.6,43.1 279.1,42.3 280.4,42.3 C281.7,42.3 283.4,43.1 284.6,44.6 C285.9,46.1 287.5,49.0 287.9,51.0 C288.3,53.0 286.6,54.4 286.8,56.4 C287.0,58.4 288.0,60.8 288.9,62.8 C289.8,64.8 290.1,66.0 292.1,68.1 C294.1,70.2 298.4,73.3 300.7,75.6 C303.0,77.9 304.6,79.3 306.0,82.0 C307.4,84.7 308.5,88.8 309.2,91.6 C309.9,94.4 310.6,96.9 310.3,99.1 C310.0,101.2 309.1,103.2 307.1,104.5 C305.1,105.8 300.8,105.9 298.5,106.8 C296.2,107.7 294.3,108.0 293.2,109.8 C292.1,111.5 293.0,115.5 292.1,117.3 C291.2,119.1 289.5,120.2 287.9,120.5 C286.3,120.8 284.1,120.7 282.5,119.4 C280.9,118.2 279.6,114.8 278.2,113.0 C276.8,111.2 275.6,109.3 274.0,108.8 C272.4,108.3 270.9,109.2 268.6,109.8 C266.3,110.4 263.0,112.3 260.1,112.6 C257.2,112.9 254.2,112.6 251.5,111.4 C248.8,110.2 245.7,107.9 244.0,105.5 C242.3,103.1 241.6,99.8 241.3,97.0 C241.1,94.2 243.1,90.2 242.5,88.4 C241.9,86.6 239.2,87.2 237.6,86.3 C236.0,85.4 233.7,84.3 232.7,83.1 C231.7,81.8 231.5,80.2 231.8,78.8 C232.1,77.4 232.9,75.4 234.4,74.5 C235.9,73.6 239.9,74.9 240.8,73.5 C241.7,72.1 239.8,68.3 239.8,66.0 C239.8,63.7 239.9,61.4 240.8,59.6 C241.7,57.8 243.1,56.4 245.1,55.3 C247.1,54.2 251.2,54.6 252.6,53.2 C254.0,51.8 253.0,48.4 253.7,46.8Z" fill="#3d3d3d"/>
<path d="M271,52 L287,58 L292,68 L301,76 L306,83 L309,92 L310,99 L307,104 L298,106.5 L290,99 L281,88 L271,72 L266,62Z" fill="#454545"/>
<path d="M274,58.5 L287.5,54.5 L292,65 L281.5,70.2Z" fill="#565656"/>
<path d="M281.5,70.2 L292,65 L300.5,75.5 L296,82 L286,80Z" fill="#333"/>
<path d="M286,80 L296,82 L300.5,75.5 L306,83 L309,92 L303,97 L293,95Z" fill="#4a4a4a"/>
<path d="M293,95 L303,97 L309,92 L310,99 L307,104 L298,106.5Z" fill="#303030"/>
<path d="M266,62 L271,72 L281,88 L290,99 L283,102 L272,92 L266,78Z" fill="#2e2e2e"/>
<ellipse cx="254.9" cy="97.2" rx="14" ry="14.2" fill="#262626"/>
<ellipse cx="255.6" cy="96.6" rx="12.4" ry="12.6" fill="#454545"/>
<path d="M245.8,95.2 L265.6,97.6 L265.2,101.6 L245.4,99.2Z" fill="#2b2b2b"/>
<path d="M247,96.6 L264.4,98.8" stroke="#666" stroke-width="1" stroke-dasharray="1.6 1.2"/>
<circle cx="260" cy="49.5" r="5.2" fill="#4e4e4e"/>
<circle cx="259.5" cy="50.0" r="3.4" fill="#2a2a2a"/>
<circle cx="259.2" cy="50.3" r="1.8" fill="#5e5e5e"/>
<circle cx="248.6" cy="62.6" r="7.4" fill="#333"/>
<circle cx="248.1" cy="63.1" r="4.9" fill="#686868"/>
<circle cx="247.79999999999998" cy="63.4" r="2.5" fill="#2a2a2a"/>
<circle cx="248.2" cy="63" r="2.6" fill="#555"/>
<circle cx="237.8" cy="79.8" r="5.6" fill="#4e4e4e"/>
<circle cx="237.3" cy="80.3" r="3.7" fill="#2a2a2a"/>
<circle cx="237.0" cy="80.6" r="1.9" fill="#5e5e5e"/>
<circle cx="256.9" cy="77.8" r="3.6" fill="#4e4e4e"/>
<circle cx="256.4" cy="78.3" r="2.4" fill="#2a2a2a"/>
<circle cx="256.09999999999997" cy="78.6" r="1.2" fill="#5e5e5e"/>
<circle cx="287" cy="113.4" r="6.0" fill="#4e4e4e"/>
<circle cx="286.5" cy="113.9" r="4.0" fill="#2a2a2a"/>
<circle cx="286.2" cy="114.2" r="2.0" fill="#5e5e5e"/>
<path d="M276,52 L276.8,45 Q280.4,41 284.4,44.4 L287.9,51 L287,57 L281,58.5Z" fill="#272727"/>
<ellipse cx="280.4" cy="44.2" rx="3.2" ry="1.8" fill="#505050" transform="rotate(-15 280.4 44.2)"/>
</g>
<g filter="url(#soft)">
<path d="M263,69 L286,95.5 L308,113.5 Q318,121.5 330,125 L358,132.8" fill="none" stroke="#242424" stroke-width="7" stroke-linecap="round" stroke-linejoin="round"/>
<path d="M263,67.6 L286,94 L308,112 Q318,120 330,123.4 L358,131.2" fill="none" stroke="#484848" stroke-width="1.3" stroke-linecap="round" stroke-linejoin="round"/>
<ellipse cx="263.3" cy="69.3" rx="5" ry="4.4" fill="#2a2a2a"/><ellipse cx="262.8" cy="68.8" rx="3.6" ry="3" fill="#707070"/><ellipse cx="262.6" cy="68.6" rx="1.8" ry="1.4" fill="#3a3a3a"/>
<path d="M356.5,132.4 L370.5,135.6" stroke="#7a7a7a" stroke-width="8.4"/>
<path d="M370.5,136.3 Q468.75,152.85 568,178.2" fill="none" stroke="#242424" stroke-width="11" stroke-linecap="butt"/>
<path d="M370.5,132.6 Q468.75,149.1 568,174.5" fill="none" stroke="#464646" stroke-width="2.4"/>
<path d="M370.5,134.6 Q468.75,151.1 568,176.5" fill="none" stroke="#353535" stroke-width="2.2"/>
</g>
<g filter="url(#soft)">
<path d="M361.5,98 Q362,91 368.5,90.5 Q376,89.8 381,93.4 Q383,95 382.6,103.6 L373.8,104.2 L373.8,109.6 L381.6,109.6 Q384.6,111.5 383.6,115 Q381,118.6 372,119.2 L363,115.6 Q361.4,108 361.5,98Z" fill="#0e0e0e"/>
<path d="M369.5,92 Q372,98 371.5,108" fill="none" stroke="#2c2c2c" stroke-width="1.2"/>
<ellipse cx="377.4" cy="113.6" rx="2.4" ry="1.4" fill="#333"/>
<path d="M480.6,134.6 L480.3,123 Q481,115 487.5,112.2 Q490,111.6 491.8,113.6 Q494,111.8 497,112.8 Q501.6,115.4 502.1,122 L502.6,128.6 Q500,130.6 495.5,130 L492.5,130 L491.8,135.6 Q488,138.2 485,137.2 Z" fill="#0e0e0e"/>
<path d="M491.8,114.5 Q493.5,120 492.6,129" fill="none" stroke="#2a2a2a" stroke-width="1.2"/>
</g>
<g transform="translate(369.4,74.2)" filter="url(#soft)">
<path d="M-0.9,1.5 L-0.6,10.6 Q1.4,12.4 3.5,10.6 L3.6,1.5Z" fill="#858585"/>
<path d="M1.6,1.5 L1.7,11.3 Q2.8,11.4 3.5,10.6 L3.6,1.5Z" fill="#b0b0b0"/>
<ellipse cx="0" cy="0" rx="5.5" ry="2.7" fill="#8a8a8a" transform="rotate(-6)"/>
<ellipse cx="0" cy="-0.6" rx="5" ry="2.1" fill="#c4c4c4" transform="rotate(-6)"/>
<path d="M-2.2,-0.4 L2.2,-0.9 M-0.1,-1.9 L0.1,0.6" stroke="#808080" stroke-width="0.8"/>
</g>
<g transform="translate(481.8,95)" filter="url(#soft)">
<path d="M-0.9,1.5 L-0.6,10.6 Q1.4,12.4 3.5,10.6 L3.6,1.5Z" fill="#858585"/>
<path d="M1.6,1.5 L1.7,11.3 Q2.8,11.4 3.5,10.6 L3.6,1.5Z" fill="#b0b0b0"/>
<ellipse cx="0" cy="0" rx="5.5" ry="2.7" fill="#8a8a8a" transform="rotate(-6)"/>
<ellipse cx="0" cy="-0.6" rx="5" ry="2.1" fill="#c4c4c4" transform="rotate(-6)"/>
<path d="M-2.2,-0.4 L2.2,-0.9 M-0.1,-1.9 L0.1,0.6" stroke="#808080" stroke-width="0.8"/>
</g>
<g filter="url(#soft)">
<path d="M608.0,154.4 C609.9,154.6 615.9,154.9 619.6,155.5 C623.3,156.1 626.9,157.2 630.3,158.2 C633.7,159.2 637.1,160.4 640.1,161.7 C643.1,162.9 645.4,164.1 648.1,165.7 C650.8,167.3 653.9,169.3 656.1,171.5 C658.3,173.7 660.1,176.2 661.5,178.7 C662.9,181.2 664.3,184.2 664.3,186.7 C664.3,189.2 663.3,191.9 661.5,193.6 C659.7,195.3 656.3,196.4 653.5,196.8 C650.7,197.2 647.9,197.0 644.6,196.3 C641.3,195.7 638.3,194.1 633.9,192.9 C629.5,191.8 620.6,190.0 618.0,189.4" fill="none" stroke="#262626" stroke-width="7" stroke-linecap="round"/>
<path d="M608.9,152.7 C610.8,152.9 616.8,153.2 620.5,153.8 C624.2,154.4 627.8,155.5 631.2,156.5 C634.6,157.5 638.0,158.8 641.0,160.0 C644.0,161.2 646.3,162.4 649.0,164.0 C651.7,165.6 654.8,167.6 657.0,169.8 C659.2,172.0 661.0,174.5 662.4,177.0 C663.8,179.5 664.7,183.7 665.2,185.0" fill="none" stroke="#555" stroke-width="1.3"/>
<path d="M608,154.4 L628,157.5" stroke="#3d3d3d" stroke-width="5.2"/>
<path d="M608,153 L628,156" stroke="#6a6a6a" stroke-width="1.2"/>
<path d="M626.6,191 L640,194.6" stroke="#6c6c6c" stroke-width="7.4"/>
<path d="M568.5,146.0 C568.9,143.1 569.2,143.3 570.0,142.5 C570.8,141.7 571.3,141.2 573.0,141.0 C574.7,140.8 576.8,140.1 580.0,141.2 C583.2,142.3 589.4,145.4 592.0,147.5 C594.6,149.6 594.7,152.3 595.5,154.0 C596.3,155.7 595.6,156.8 597.0,157.5 C598.4,158.2 601.6,158.3 604.0,158.5 C606.4,158.7 610.0,157.4 611.5,158.5 C613.0,159.6 612.5,162.9 613.0,165.0 C613.5,167.1 613.2,170.3 614.5,171.3 C615.8,172.3 618.7,170.4 620.5,170.8 C622.3,171.2 624.4,172.5 625.5,174.0 C626.6,175.5 627.4,178.1 627.2,180.0 C627.0,181.9 626.0,184.1 624.5,185.5 C623.0,186.9 620.2,187.4 618.5,188.2 C616.8,188.9 614.9,187.4 614.2,190.0 C613.5,192.6 613.8,201.2 614.4,204.0 C615.0,206.8 616.3,206.1 618.0,206.8 C619.7,207.6 622.8,207.5 624.5,208.5 C626.2,209.5 627.5,211.2 628.0,213.0 C628.5,214.8 628.3,217.7 627.5,219.5 C626.7,221.3 624.7,222.9 623.0,224.0 C621.3,225.1 618.4,224.5 617.4,226.0 C616.4,227.5 617.5,231.1 617.0,233.0 C616.5,234.9 616.7,236.7 614.5,237.5 C612.3,238.3 606.8,238.2 604.0,238.0 C601.2,237.8 599.4,237.7 598.0,236.5 C596.6,235.3 596.0,233.3 595.4,231.0 C594.8,228.7 595.3,224.7 594.4,222.5 C593.5,220.3 591.9,220.0 590.0,218.0 C588.1,216.0 585.3,212.9 583.0,210.5 C580.7,208.1 578.6,204.9 576.4,203.4 C574.2,201.9 571.8,202.5 570.0,201.6 C568.2,200.7 566.4,200.6 565.6,198.0 C564.8,195.4 565.4,189.8 565.4,186.0 C565.4,182.2 565.1,177.8 565.6,175.5 C566.1,173.2 568.3,174.6 568.6,172.0 C568.9,169.4 567.6,164.3 567.6,160.0 C567.6,155.7 568.1,148.9 568.5,146.0Z" fill="#444"/>
<path d="M569,150 L579,155.5 L580,204 L576.5,203.4 L570,201.5 L566,198 L566,176 L569,172Z" fill="#525252"/>
<path d="M566,176.5 L572,178 L572,200 L566,197.5Z" fill="#383838"/>
<path d="M589,152 L596,157.5 L597,224 L590,218Z" fill="#333"/>
<path d="M599.5,160 L606.5,160 L607,236 L600.5,236Z" fill="#505050"/>
<path d="M607,160 L612,160 L614,204 L614.5,234 L611,238 L607,238Z" fill="#363636"/>
<circle cx="619.6" cy="179" r="6.4" fill="#4b4b4b"/><circle cx="619.6" cy="179" r="2.8" fill="#333"/>
<circle cx="620.6" cy="216" r="6.4" fill="#4b4b4b"/><circle cx="620.6" cy="216" r="2.8" fill="#333"/>
<ellipse cx="582.4" cy="153" rx="13.6" ry="8.2" transform="rotate(14 582.4 153)" fill="#4e4e4e"/>
<ellipse cx="582.8" cy="152" rx="12.8" ry="7.9" transform="rotate(14 582.8 152)" fill="#1b1b1b"/>
<ellipse cx="582.8" cy="150.2" rx="12.6" ry="7.7" transform="rotate(14 582.8 150.2)" fill="#111"/>
<path d="M569.0,143.6 L569.0,147.6 Q572.2,149.79999999999998 575.4000000000001,147.6 L575.4000000000001,143.6Z" fill="#6a6a6a"/>
<path d="M573.0,143.6 L573.0,149.0 Q574.6,148.6 575.4000000000001,147.6 L575.4000000000001,143.6Z" fill="#8c8c8c"/>
<ellipse cx="572.2" cy="143.6" rx="3.3" ry="2.3" fill="#a6a6a6"/><ellipse cx="572.2" cy="143.6" rx="1.7" ry="1.1" fill="#5a5a5a"/>
<path d="M586.0999999999999,152.2 L586.0999999999999,156.2 Q589.3,158.39999999999998 592.5,156.2 L592.5,152.2Z" fill="#6a6a6a"/>
<path d="M590.0999999999999,152.2 L590.0999999999999,157.6 Q591.6999999999999,157.2 592.5,156.2 L592.5,152.2Z" fill="#8c8c8c"/>
<ellipse cx="589.3" cy="152.2" rx="3.3" ry="2.3" fill="#a6a6a6"/><ellipse cx="589.3" cy="152.2" rx="1.7" ry="1.1" fill="#5a5a5a"/>
<ellipse cx="603.2" cy="159.4" rx="7.4" ry="2.8" fill="#3a3a3a"/><path d="M595.8,159 A7.4,2.8 0 0 0 610.6,159" fill="none" stroke="#b05f20" stroke-width="1.5"/>
<path d="M596.4,152 L610,152 L610.2,159 Q603.2,161.8 596.2,159Z" fill="#3c3c3c"/>
<ellipse cx="603.2" cy="150.6" rx="7.4" ry="2.8" fill="#4a4a4a"/><path d="M595.8,150.4 A7.4,2.8 0 0 0 610.6,150.4" fill="none" stroke="#c06a26" stroke-width="1.5"/>
<path d="M596.6,144.3 L609.8,144.3 L609.6,150.4 Q603.2,152.6 596.8,150.4Z" fill="#4d4d4d"/>
<ellipse cx="603.2" cy="144.3" rx="6.6" ry="3" fill="#757575"/>
<ellipse cx="603.2" cy="144.4" rx="3.4" ry="1.5" fill="#2c2c2c"/>
<path d="M600,234.5 L615.6,234.5 L615.2,240.6 L613.2,241.6 L613,257 Q608.8,259.4 604.8,257 L604.8,241.6 L600.4,240.6Z" fill="#1e1e1e"/>
<path d="M605.2,242 L612.8,242 L612.8,257 Q608.8,259 605.2,257Z" fill="#3f3f3f"/>
<path d="M606,242.5 L608,242.5 L608,257.6 L606,257Z" fill="#5a5a5a"/>
</g>
<g filter="url(#soft)">
<line x1="601.0" y1="193.0" x2="615.2" y2="180.4" stroke="#8f8f8f" stroke-width="5.4" stroke-linecap="round"/>
<line x1="600.5" y1="192.4" x2="614.7" y2="179.8" stroke="#d2d2d2" stroke-width="2.1" stroke-linecap="round"/>
<line x1="601.0" y1="193.0" x2="605.5" y2="189.0" stroke="#8f8f8f" stroke-width="10.0"/>
<line x1="600.1" y1="192.0" x2="604.6" y2="188.0" stroke="#d2d2d2" stroke-width="3.5"/>
<ellipse cx="601.0" cy="193.0" rx="3.3" ry="5.0" transform="rotate(-41.6 601.0 193.0)" fill="#b5b5b5"/>
<ellipse cx="601.0" cy="193.0" rx="1.9" ry="3.0" transform="rotate(-41.6 601.0 193.0)" fill="#666"/>
<line x1="601.3" y1="230.4" x2="615.2" y2="219.0" stroke="#8f8f8f" stroke-width="5.4" stroke-linecap="round"/>
<line x1="600.8" y1="229.8" x2="614.7" y2="218.4" stroke="#d2d2d2" stroke-width="2.1" stroke-linecap="round"/>
<line x1="601.3" y1="230.4" x2="605.9" y2="226.6" stroke="#8f8f8f" stroke-width="10.0"/>
<line x1="600.4" y1="229.3" x2="605.1" y2="225.5" stroke="#d2d2d2" stroke-width="3.5"/>
<ellipse cx="601.3" cy="230.4" rx="3.3" ry="5.0" transform="rotate(-39.4 601.3 230.4)" fill="#b5b5b5"/>
<ellipse cx="601.3" cy="230.4" rx="1.9" ry="3.0" transform="rotate(-39.4 601.3 230.4)" fill="#666"/>
</g>
<g filter="url(#soft)">
<path d="M535.1,234.6 L538.6,232.6 L549,232.6 L551.3,234.4 L551.3,249.8 L548.2,253.6 L541,254.4 L535.1,251.4Z" fill="#6c6c6c"/>
<path d="M548.2,236 L551.3,234.4 L551.3,249.8 L548.2,253.6Z" fill="#7f7f7f"/>
<path d="M538.6,224.3 L538.6,233.4 Q543.8,236 549,233.4 L549,224.3Z" fill="#787878"/>
<path d="M545.6,224.3 L545.6,234.6 Q547.6,234.4 549,233.4 L549,224.3Z" fill="#909090"/>
<ellipse cx="543.8" cy="224.3" rx="5.2" ry="2.6" fill="#979797"/><ellipse cx="543.8" cy="224.5" rx="3.3" ry="1.5" fill="#505050"/>
<path d="M538.4,247.4 L541.2,246.6 L542.8,250.2 L540,251.2Z" fill="#ececec"/>
<path d="M521.2,240.5 L521.2,245.6 L518.4,244.4 L518,248.4 L521,250.6 Q521.6,255 518.2,260 L517.3,268 Q519,272.6 523.5,272.2 Q526.6,271.2 526.6,267 L527,258.2 L528.6,257.6 L529,262.6 L532.5,261.6 L532.8,257 L531,252 L531.2,240.5 Q526,243.8 521.2,240.5Z" fill="#747474"/>
<path d="M521.2,240.5 Q526.2,237.2 531.2,240.5 L531.2,244.6 Q526,247.6 521.2,244.6Z" fill="#8d8d8d"/>
<ellipse cx="526.2" cy="240.6" rx="4.2" ry="1.7" fill="#5f5f5f"/>
<path d="M519,262 L518.2,268 Q519.5,271 522,271.4 L522.6,258Z" fill="#868686"/>
</g>
<g filter="url(#soft)">
<path d="M549.5,347.5 C549.6,346.3 549.4,345.0 550.0,344.0 C550.6,343.0 551.2,342.2 553.1,341.6 C555.0,341.0 558.4,340.8 561.4,340.4 C564.4,340.0 567.9,339.8 570.9,339.2 C573.9,338.6 576.8,337.6 579.2,336.8 C581.6,336.0 583.4,335.7 585.2,334.5 C587.0,333.3 588.5,331.5 589.9,329.7 C591.3,327.9 592.4,325.6 593.5,323.8 C594.6,322.0 594.9,320.5 596.3,319.0 C597.7,317.5 599.3,316.1 601.8,314.7 C604.3,313.3 608.1,311.4 611.3,310.7 C614.5,310.0 618.0,310.3 620.8,310.5 C623.6,310.7 625.1,310.9 627.9,311.7 C630.7,312.5 634.6,313.8 637.4,315.2 C640.2,316.6 642.4,318.2 644.6,320.0 C646.8,321.8 648.7,323.9 650.5,326.1 C652.3,328.3 653.5,330.3 655.3,333.3 C657.1,336.3 659.2,340.4 661.2,344.0 C663.2,347.6 665.4,351.6 667.5,355.0 C669.6,358.4 671.8,361.4 674.0,364.5 C676.2,367.6 678.9,371.6 680.7,373.8 C682.5,376.1 683.3,376.9 685.0,378.0 C686.7,379.1 687.9,379.7 690.7,380.5 C693.5,381.3 698.1,382.2 702.0,383.0 C705.9,383.8 709.9,384.6 714.1,385.5 C718.3,386.4 722.5,387.6 727.0,388.7 C731.5,389.8 735.8,390.8 740.9,392.2 C746.0,393.6 754.5,395.9 757.5,396.8 C760.5,397.7 758.8,396.5 759.0,397.6 C759.2,398.7 760.0,401.5 758.8,403.2 C757.6,404.9 754.1,406.5 752.0,407.8 C749.9,409.1 748.2,410.6 746.4,411.0 C744.6,411.4 744.2,410.9 741.0,410.0 C737.8,409.1 730.7,406.8 727.0,405.6 C723.3,404.4 721.4,403.7 718.7,402.8 C716.0,401.9 712.6,401.2 711.0,400.0 C709.4,398.8 711.2,396.7 709.0,395.5 C706.8,394.3 701.6,393.8 698.0,393.0 C694.4,392.2 690.4,391.3 687.4,390.5 C684.4,389.7 682.2,389.0 680.0,388.0 C677.8,387.0 676.0,385.8 674.0,384.5 C672.0,383.2 669.7,381.6 668.0,380.0 C666.3,378.4 665.5,377.9 663.6,374.9 C661.7,371.9 658.4,365.8 656.4,361.8 C654.4,357.8 653.3,354.5 651.7,351.1 C650.1,347.7 648.7,344.2 646.9,341.6 C645.1,339.0 643.0,337.2 641.0,335.6 C639.0,334.0 637.3,333.0 635.1,332.1 C632.9,331.2 630.1,330.6 627.9,330.4 C625.7,330.2 623.8,330.4 622.0,330.9 C620.2,331.4 618.2,332.3 617.2,333.3 C616.2,334.3 616.0,334.8 616.0,336.8 C616.0,338.8 617.2,342.8 617.5,345.2 C617.8,347.6 618.1,348.9 617.9,351.1 C617.7,353.3 617.4,355.9 616.5,358.2 C615.6,360.4 614.2,362.9 612.5,364.6 C610.8,366.3 608.7,367.6 606.5,368.4 C604.3,369.2 601.8,369.6 599.4,369.6 C597.0,369.6 594.5,369.2 592.3,368.4 C590.1,367.6 587.7,366.0 586.3,364.6 C584.9,363.2 585.8,360.4 584.0,359.9 C582.2,359.4 578.6,361.4 575.6,361.8 C572.6,362.2 569.1,362.6 566.1,362.3 C563.1,362.0 560.1,361.0 557.8,359.9 C555.5,358.8 553.8,357.3 552.4,355.8 C551.0,354.3 550.0,352.5 549.5,351.1 C549.0,349.7 549.4,348.7 549.5,347.5Z" fill="#2c2c2c"/>
<path d="M598,319 Q605,313.5 620,312.5 Q636,313.5 646,323.5 L660,346 L677,372.5 Q683,380 692,382.5 L758,398.8" fill="none" stroke="#414141" stroke-width="2.8" stroke-linecap="round"/>
<path d="M552,344 Q562,342 572,341 Q582,339 588,334" fill="none" stroke="#3f3f3f" stroke-width="2.4" stroke-linecap="round"/>
<path d="M711.2,383.4 L758.9,396.9 L758.4,403.4 L746.6,411 L718.7,402.6 L712.3,393.6Z" fill="#252525" stroke="#252525" stroke-width="1" stroke-linejoin="round"/>
<path d="M684,379 L711.5,384.2 L758.6,397 L755,401.4 L713,391 L690,386Z" fill="#434343"/>
<ellipse cx="721" cy="391.8" rx="2.3" ry="1.6" fill="#7a7a7a"/><ellipse cx="721.3" cy="392.0" rx="1.4" ry="1" fill="#1c1c1c"/>
<ellipse cx="734.4" cy="395.3" rx="2.3" ry="1.6" fill="#7a7a7a"/><ellipse cx="734.6999999999999" cy="395.5" rx="1.4" ry="1" fill="#1c1c1c"/>
<ellipse cx="747.8" cy="398.8" rx="2.3" ry="1.6" fill="#7a7a7a"/><ellipse cx="748.0999999999999" cy="399.0" rx="1.4" ry="1" fill="#1c1c1c"/>
<path d="M739.8,396 L738.4,408" stroke="#0e0e0e" stroke-width="0.9"/>
<ellipse cx="597.2" cy="355.3" rx="12.6" ry="14.4" transform="rotate(-20 597.2 355.3)" fill="#232323"/>
<ellipse cx="596.3" cy="354.3" rx="11.4" ry="13.2" transform="rotate(-20 596.3 354.3)" fill="#3d3d3d"/>
<ellipse cx="596.4" cy="354.1" rx="8.6" ry="10.2" transform="rotate(-20 596.4 354.1)" fill="#191919"/>
<ellipse cx="597.4" cy="354.4" rx="6.7" ry="8.4" transform="rotate(-20 597.4 354.4)" fill="url(#bore)"/>
<ellipse cx="556.6" cy="350.4" rx="2.7" ry="2.3" fill="#1a1a1a"/><ellipse cx="556.9" cy="350.5" rx="1.7" ry="1.4" fill="#c8c8c8"/>
<circle cx="652" cy="335" r="0.8" fill="#555"/><circle cx="653.2" cy="337.2" r="0.8" fill="#555"/>
</g>
<ellipse cx="647.2" cy="304.8" rx="9.35" ry="8.25" transform="rotate(40 647.2 304.8)" fill="none" stroke="#141414" stroke-width="4.3" filter="url(#soft)"/>
<ellipse cx="571.2" cy="380.6" rx="9.35" ry="8.25" transform="rotate(40 571.2 380.6)" fill="none" stroke="#141414" stroke-width="4.3" filter="url(#soft)"/>
<g filter="url(#soft)">
<ellipse cx="677" cy="277.4" rx="8.6" ry="12.8" transform="rotate(-43 677 277.4)" fill="#1b1b1b"/>
<ellipse cx="676" cy="276.4" rx="7.4" ry="11.6" transform="rotate(-43 676 276.4)" fill="#383838"/>
<path d="M669.3,273.9 L679.7,285.1 L671.7,292.6 L661.3,281.4Z" fill="#262626"/>
<path d="M669.3,273.9 L672.9,277.8 L664.9,285.3 L661.3,281.4Z" fill="#585858"/>
<path d="M672.9,277.8 L675.6,280.7 L667.6,288.2 L664.9,285.3Z" fill="#3c3c3c"/>
<path d="M665.6,277.6 L675.8,288.6" stroke="#1a1a1a" stroke-width="1"/>
<ellipse cx="666.5" cy="287" rx="4.9" ry="7.6" transform="rotate(-43 666.5 287)" fill="#2d2d2d"/>
<path d="M663.6,283.9 L669.4,290.1 L662.9,296.1 L657.1,289.9Z" fill="#262626"/>
<path d="M663.6,283.9 L665.9,286.4 L659.4,292.4 L657.1,289.9Z" fill="#555"/>
<ellipse cx="660" cy="293" rx="2.9" ry="4.3" transform="rotate(-43 660 293)" fill="#171717"/>
</g>
<g filter="url(#soft)">
<path d="M669.6,312.5 Q667.5,304.5 673.5,304.3 Q679.2,304.5 679.6,311.5" fill="none" stroke="#1e1e1e" stroke-width="2.2"/>
<path d="M669.2,324 Q669.2,331.2 675,331.6 Q680.8,331.3 680.8,324" fill="none" stroke="#1e1e1e" stroke-width="2.2"/>
<rect x="668.6" y="310.8" width="10.8" height="14.4" rx="2.2" fill="#2e2e2e" transform="rotate(4 674 318)"/>
<path d="M669.5,314 L679.5,316.5 M669.5,317.5 L679.5,320 M669.5,321 L679.5,323.5" stroke="#4a4a4a" stroke-width="0.9"/>
</g>
<g transform="translate(735,325.6)" filter="url(#soft)">
<rect x="-3" y="6" width="6" height="12.5" rx="1" fill="#585858"/>
<rect x="0.2" y="6" width="2" height="12.5" fill="#8a8a8a"/>
<rect x="-4.9" y="0.5" width="9.8" height="7" rx="1.2" fill="#4a4a4a"/>
<rect x="1" y="1.5" width="2.8" height="6" fill="#7c7c7c"/>
<ellipse cx="0" cy="1" rx="4.9" ry="2.3" fill="#5c5c5c"/>
<ellipse cx="0" cy="1" rx="2.6" ry="1.2" fill="#262626"/>
</g>
<g transform="translate(748,329.4)" filter="url(#soft)">
<rect x="-3" y="6" width="6" height="12.5" rx="1" fill="#585858"/>
<rect x="0.2" y="6" width="2" height="12.5" fill="#8a8a8a"/>
<rect x="-4.9" y="0.5" width="9.8" height="7" rx="1.2" fill="#4a4a4a"/>
<rect x="1" y="1.5" width="2.8" height="6" fill="#7c7c7c"/>
<ellipse cx="0" cy="1" rx="4.9" ry="2.3" fill="#5c5c5c"/>
<ellipse cx="0" cy="1" rx="2.6" ry="1.2" fill="#262626"/>
</g>
<g filter="url(#soft)">
<path d="M709.0,365.0 L709.3,361.8 L711.3,358.6 L712.4,360.6 L714.3,355.6 L715.4,357.6 L717.4,352.6 L718.5,354.6 L720.5,350.0 L721.6,352.0 L723.5,347.8 L724.8,349.6 L726.0,347.3 L727.6,350.5 L729.2,355.0 L740.0,357.2 L751.5,359.6 L753.2,360.8 L755.0,357.8 L756.8,360.3 L758.8,356.8 L760.6,359.3 L763.0,356.2 L765.0,357.6 L764.6,363.0 L760.0,367.0 L755.0,370.0 L745.0,372.2 L733.0,372.8 L720.0,371.5 L712.0,368.5Z" fill="#b4b4b4"/>
<path d="M729.2,355 L751.5,359.6 L752,362 L745,361 L738,362.4 L730,361.6 L724,363.4Z" fill="#cbcbcb"/>
<path d="M709,365 L709.3,362 L714,366.4 L722,368.6 L733,369.2 L745,368.4 L755,365.8 L760.5,362.5 L765,357.6 L764.6,363 L760,367 L755,370 L745,372.2 L733,372.8 L720,371.5 L712,368.5Z" fill="#7e7e7e"/>
<path d="M726,347.3 L727.6,350.5 L729.2,355 L722.5,362.6 L714,366.4 L709.3,362 L711.3,358.6 L712.4,360.6 L714.3,355.6 L715.4,357.6 L717.4,352.6 L718.5,354.6 L720.5,350 L721.6,352 L723.5,347.8 L724.8,349.6Z" fill="#8c8c8c"/>
<path d="M722.5,365.5 L724.5,362 L726.5,365 L728.5,362.6 L730.5,365.6 L732.8,362.6 L735,365.6 L737.4,362.2 L739.6,365.2 L742,361.6 L744.2,364.6 L746.6,361 L748.8,364 L751,360.3 L752.6,363.2" fill="none" stroke="#6c6c6c" stroke-width="1.3" stroke-linejoin="miter"/>
<ellipse cx="735" cy="360.2" rx="2.2" ry="1.2" fill="#e9e9e9"/>
</g>
<g filter="url(#soft)">
<path d="M809,332.8 Q801,338 797,346 L793.4,352 Q784,355.5 777.8,359.5 Q771,365 768.9,372.5 Q767.5,379.5 770.5,381.6 Q774.5,383.2 779,378 Q784,372 787,364 L791,354.5 Q803,350.5 808.5,345.5 Q812.5,341.5 814,336.4" fill="none" stroke="#5b6074" stroke-width="1.4" stroke-linejoin="round"/>
<path d="M794.2,350.8 L790.6,355.6" stroke="#c8832f" stroke-width="2.8" stroke-linecap="round"/>
<path d="M816,333 Q816.5,339.5 819,340.6 Q822.5,340 824,331" fill="none" stroke="#474c5f" stroke-width="2.4"/>
<path d="M807,329.4 L811.6,325.8 L824.6,329 L823.6,333.6 L818.6,335.6 L808.4,332.8Z" fill="#868ca3"/>
<path d="M807,329.4 L811.6,325.8 L824.6,329 L820,332.2Z" fill="#a3a9bf"/>
<ellipse cx="814.6" cy="330.2" rx="2.2" ry="1.4" fill="#fff"/>
</g>
<text x="190.4" y="36.1" class="lb" filter="url(#soft0)">1C</text>
<text x="84.9" y="79" class="lb" filter="url(#soft0)">18</text>
<text x="142.1" y="79.4" class="lb" filter="url(#soft0)">2</text>
<text x="63.9" y="102.2" class="lb" filter="url(#soft0)">15</text>
<text x="264" y="204.4" class="lb" filter="url(#soft0)">3</text>
<text x="9.3" y="284.3" class="lb" filter="url(#soft0)">16</text>
<text x="419.4" y="34.8" class="lb" filter="url(#soft0)">5</text>
<text x="417.7" y="68.5" class="lb" filter="url(#soft0)">4</text>
<text x="605.5" y="106" class="lb" filter="url(#soft0)">1A</text>
<text x="413.2" y="222" class="lb" filter="url(#soft0)">1B</text>
<text x="475.7" y="213.9" class="lb" filter="url(#soft0)">13</text>
<text x="455.7" y="277.8" class="lb" filter="url(#soft0)">14</text>
<text x="565.5" y="228" class="lb" filter="url(#soft0)">6</text>
<text x="719.5" y="267.2" class="lb" filter="url(#soft0)">9</text>
<text x="620" y="284.2" class="lb" filter="url(#soft0)">8</text>
<text x="712.8" y="288.7" class="lb" filter="url(#soft0)">17</text>
<text x="554.8" y="301.0" class="lb" filter="url(#soft0)">10</text>
<text x="603" y="416.6" class="lb" filter="url(#soft0)">8</text>
<text x="754.6" y="301" class="lb" filter="url(#soft0)">12</text>
<text x="781.2" y="318" class="lb" filter="url(#soft0)">11</text>
<text x="795.2" y="289.2" class="lb" filter="url(#soft0)">19</text>
<line x1="209.4" y1="30.5" x2="244.3" y2="53.4" stroke="#303030" stroke-width="0.55" stroke-dasharray="6 1.2 1.2 1.2"/>
<path d="M244.3,53.4 L239.7,52.0 L241.2,49.7Z" fill="#111"/>
<line x1="101.4" y1="73" x2="161.8" y2="145.6" stroke="#303030" stroke-width="0.55" stroke-dasharray="6 1.2 1.2 1.2"/>
<path d="M161.8,145.6 L157.8,142.9 L159.9,141.2Z" fill="#111"/>
<line x1="151" y1="73.9" x2="193.7" y2="107.6" stroke="#303030" stroke-width="0.55" stroke-dasharray="6 1.2 1.2 1.2"/>
<path d="M193.7,107.6 L189.3,105.8 L190.9,103.7Z" fill="#111"/>
<line x1="80.5" y1="96.7" x2="99.5" y2="133" stroke="#303030" stroke-width="0.55" stroke-dasharray="6 1.2 1.2 1.2"/>
<path d="M99.5,133.0 L96.2,129.6 L98.6,128.3Z" fill="#111"/>
<line x1="262.7" y1="197" x2="232.3" y2="172.7" stroke="#303030" stroke-width="0.55" stroke-dasharray="6 1.2 1.2 1.2"/>
<path d="M232.3,172.7 L236.7,174.5 L235.1,176.6Z" fill="#111"/>
<line x1="26.5" y1="279" x2="86" y2="216.5" stroke="#303030" stroke-width="0.55"/>
<path d="M86.0,216.5 L83.8,220.8 L81.9,218.9Z" fill="#111"/>
<line x1="26.5" y1="279" x2="33.5" y2="242.5" stroke="#303030" stroke-width="0.55" stroke-dasharray="3 1.5"/>
<path d="M33.5,242.5 L34.0,247.3 L31.3,246.8Z" fill="#111"/>
<line x1="26.5" y1="279" x2="124" y2="274.6" stroke="#303030" stroke-width="0.55" stroke-dasharray="9 4"/>
<line x1="26.5" y1="279" x2="70.5" y2="296" stroke="#303030" stroke-width="0.55"/>
<path d="M70.5,296.0 L65.7,295.6 L66.7,293.1Z" fill="#111"/>
<line x1="418.5" y1="30.6" x2="376" y2="70" stroke="#303030" stroke-width="0.55" stroke-dasharray="6 1.2 1.2 1.2"/>
<path d="M376.0,70.0 L378.5,65.9 L380.3,67.9Z" fill="#111"/>
<line x1="429" y1="30.6" x2="478" y2="89.8" stroke="#303030" stroke-width="0.55" stroke-dasharray="6 1.2 1.2 1.2"/>
<path d="M478.0,89.8 L474.0,87.1 L476.1,85.4Z" fill="#111"/>
<line x1="417" y1="63" x2="383" y2="94.8" stroke="#303030" stroke-width="0.55" stroke-dasharray="6 1.2 1.2 1.2"/>
<path d="M383.0,94.8 L385.4,90.7 L387.3,92.6Z" fill="#111"/>
<line x1="427" y1="65" x2="481.4" y2="121.4" stroke="#303030" stroke-width="0.55" stroke-dasharray="6 1.2 1.2 1.2"/>
<path d="M481.4,121.4 L477.2,119.0 L479.2,117.2Z" fill="#111"/>
<line x1="604.8" y1="101" x2="587.4" y2="139.8" stroke="#303030" stroke-width="0.55" stroke-dasharray="6 1.2 1.2 1.2"/>
<path d="M587.4,139.8 L588.1,135.1 L590.5,136.2Z" fill="#111"/>
<line x1="429" y1="212" x2="459.8" y2="161.6" stroke="#303030" stroke-width="0.55" stroke-dasharray="6 1.2 1.2 1.2"/>
<path d="M459.8,161.6 L458.6,166.2 L456.2,164.8Z" fill="#111"/>
<line x1="492" y1="208.9" x2="537.9" y2="224.9" stroke="#303030" stroke-width="0.55" stroke-dasharray="6 1.2 1.2 1.2"/>
<path d="M537.9,224.9 L533.1,224.7 L534.0,222.1Z" fill="#111"/>
<line x1="472" y1="270.9" x2="515.9" y2="259" stroke="#303030" stroke-width="0.55" stroke-dasharray="3 1.5"/>
<path d="M515.9,259.0 L511.8,261.5 L511.1,258.9Z" fill="#111"/>
<line x1="575" y1="221.5" x2="596.3" y2="197.7" stroke="#303030" stroke-width="0.55" stroke-dasharray="5 2"/>
<path d="M596.3,197.7 L594.2,202.0 L592.2,200.2Z" fill="#111"/>
<line x1="575" y1="221.5" x2="594.5" y2="227" stroke="#303030" stroke-width="0.55" stroke-dasharray="3 1.5"/>
<path d="M594.5,227.0 L589.7,227.1 L590.4,224.5Z" fill="#111"/>
<line x1="719.3" y1="262.8" x2="689.2" y2="273" stroke="#303030" stroke-width="0.55" stroke-dasharray="6 1.2 1.2 1.2"/>
<path d="M689.2,273.0 L693.1,270.2 L694.0,272.8Z" fill="#111"/>
<line x1="627" y1="278.3" x2="643.3" y2="294.4" stroke="#303030" stroke-width="0.55" stroke-dasharray="6 1.2 1.2 1.2"/>
<path d="M643.3,294.4 L639.1,292.1 L641.0,290.2Z" fill="#111"/>
<line x1="713.4" y1="284.2" x2="680" y2="315.8" stroke="#303030" stroke-width="0.55" stroke-dasharray="6 1.2 1.2 1.2"/>
<path d="M680.0,315.8 L682.4,311.7 L684.3,313.6Z" fill="#111"/>
<line x1="571.8" y1="296.7" x2="597" y2="319.5" stroke="#303030" stroke-width="0.55" stroke-dasharray="6 1.2 1.2 1.2"/>
<path d="M597.0,319.5 L592.7,317.4 L594.5,315.4Z" fill="#111"/>
<line x1="602" y1="408" x2="581.9" y2="386.5" stroke="#303030" stroke-width="0.55" stroke-dasharray="6 1.2 1.2 1.2"/>
<path d="M581.9,386.5 L586.0,388.9 L584.1,390.8Z" fill="#111"/>
<line x1="754" y1="297" x2="736.3" y2="325.4" stroke="#303030" stroke-width="0.55" stroke-dasharray="6 1.2 1.2 1.2"/>
<path d="M736.3,325.4 L737.6,320.8 L739.9,322.2Z" fill="#111"/>
<line x1="754.6" y1="298.7" x2="749.8" y2="327.6" stroke="#303030" stroke-width="0.55" stroke-dasharray="3 1.5"/>
<path d="M749.8,327.6 L749.2,322.8 L751.9,323.3Z" fill="#111"/>
<line x1="781" y1="313" x2="764.2" y2="353.3" stroke="#303030" stroke-width="0.55" stroke-dasharray="6 1.2 1.2 1.2"/>
<path d="M764.2,353.3 L764.7,348.5 L767.2,349.6Z" fill="#111"/>
<line x1="812.4" y1="285" x2="818" y2="326" stroke="#303030" stroke-width="0.55" stroke-dasharray="3 1.5"/>
<path d="M818.0,326.0 L816.0,321.6 L818.7,321.3Z" fill="#111"/>
</svg>
</body></html>
